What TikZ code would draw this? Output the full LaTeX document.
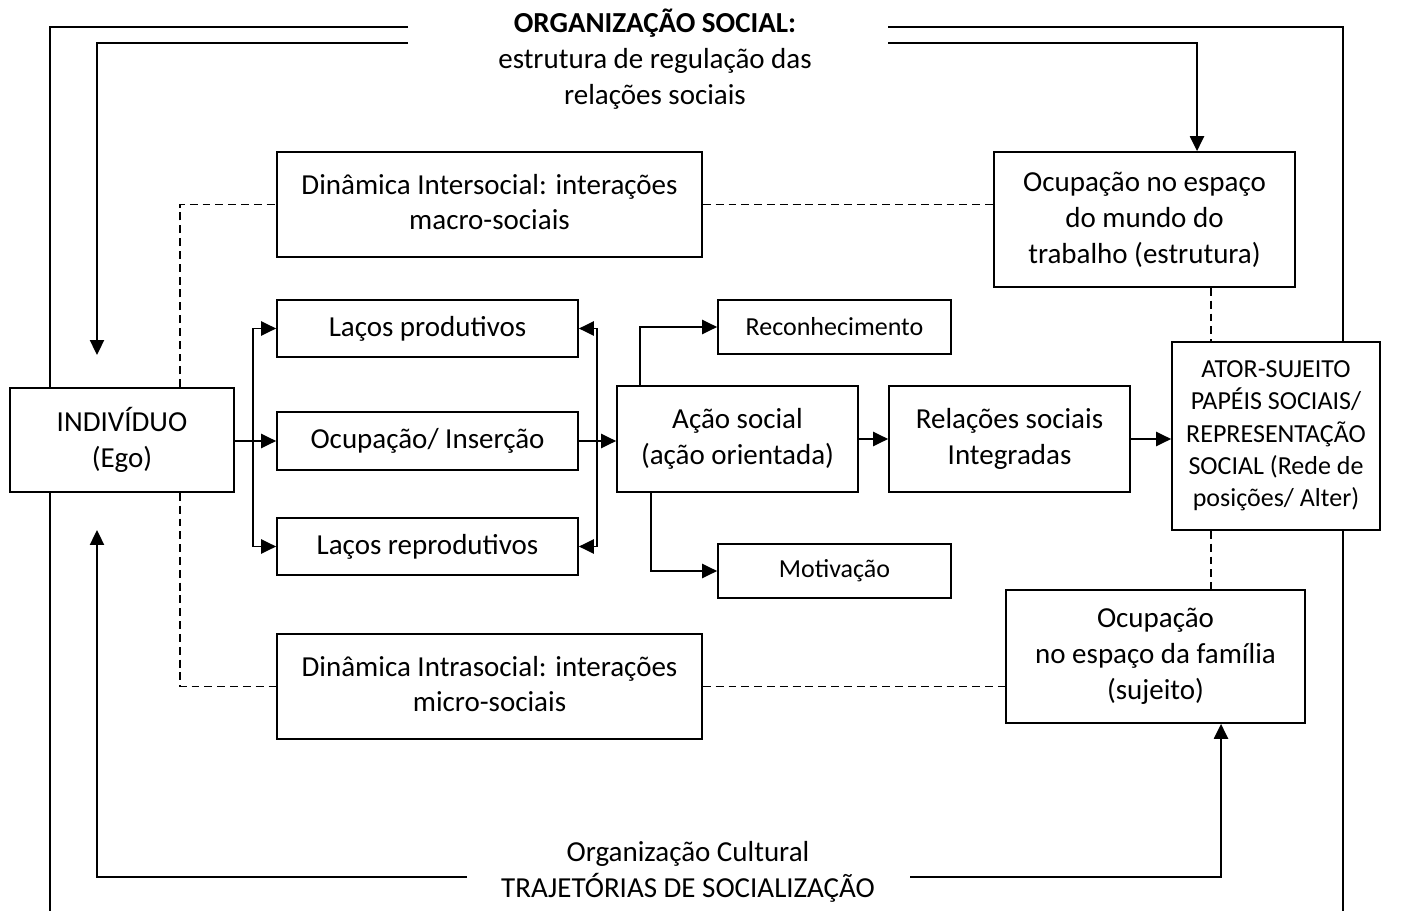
\documentclass[tikz,border=0pt]{standalone}
\usepackage{fontspec}
\setmainfont{Carlito}
\usetikzlibrary{arrows.meta}

\begin{document}
\begin{tikzpicture}[x=0.02cm,y=-0.02cm,
    font=\fontsize{16.5}{20.4}\selectfont,
    caixa/.style={draw,fill=white,line width=1pt,align=center,inner sep=0pt},
    menor/.style={font=\fontsize{14.8}{18.4}\selectfont},
    seta/.style={line width=1.1pt,-{Triangle[length=8.5pt,width=8pt]}},
    linha/.style={line width=1.1pt},
    tracejado/.style={line width=1pt,dash pattern=on 4.5pt off 2.8pt}]
    \useasboundingbox (0,0) rectangle (1408,911);
    \coordinate (o1) at (408,27);
    \coordinate (o2) at (888,27);
    \coordinate (i1) at (408,43);
    \coordinate (i2) at (888,43);
    \coordinate (b1) at (467,877);
    \coordinate (b2) at (910,877);
    \draw[linha] (o1) -- (50,27) -- (50,911);
    \draw[linha] (o2) -- (1343,27) -- (1343,911);
    \draw[seta] (i1) -- (97,43) -- (97,355);
    \draw[seta] (b1) -- (97,877) -- (97,530);
    \node[align=center] (org) at (655,59) {\textbf{ORGANIZAÇÃO SOCIAL:}\\estrutura de regulação das\\relações sociais};
    \node[align=center] (cult) at (688,872) {Organização Cultural\\TRAJETÓRIAS DE SOCIALIZAÇÃO};
    \node[caixa,minimum width=4.48cm,minimum height=2.08cm] (ind) at (122,440) {INDIVÍDUO\\(Ego)};
    \node[caixa,minimum width=8.5cm,minimum height=2.1cm] (inter) at (489.5,204.5) {Dinâmica Intersocial: interações\\macro-sociais\vphantom{g}};
    \node[caixa,minimum width=6.02cm,minimum height=2.7cm] (trab) at (1144.5,219.5) {Ocupação no espaço\\do mundo do\\trabalho (estrutura)};
    \node[caixa,minimum width=6.02cm,minimum height=1.14cm] (lprod) at (427.5,328.5) {Laços produtivos};
    \node[caixa,minimum width=6.02cm,minimum height=1.16cm] (ocup) at (427.5,441) {Ocupação/ Inserção};
    \node[caixa,minimum width=6.02cm,minimum height=1.14cm] (lrep) at (427.5,546.5) {Laços reprodutivos};
    \node[caixa,minimum width=4.82cm,minimum height=2.12cm] (acao) at (737.5,439) {Ação social\\(ação orientada)};
    \node[caixa,menor,minimum width=4.66cm,minimum height=1.08cm] (recon) at (834.5,327) {Reconhecimento};
    \node[caixa,menor,minimum width=4.66cm,minimum height=1.08cm] (motiv) at (834.5,571) {Motivação};
    \node[caixa,minimum width=4.82cm,minimum height=2.12cm] (rel) at (1009.5,439) {Relações sociais\\Integradas};
    \node[caixa,menor,minimum width=4.16cm,minimum height=3.76cm] (ator) at (1276,436) {ATOR-SUJEITO\\PAPÉIS SOCIAIS/\\REPRESENTAÇÃO\\SOCIAL (Rede de\\posições/ Alter)};
    \node[caixa,minimum width=8.5cm,minimum height=2.1cm] (intra) at (489.5,686.5) {Dinâmica Intrasocial: interações\\micro-sociais\vphantom{g}};
    \node[caixa,minimum width=5.98cm,minimum height=2.66cm] (fam) at (1155.5,656.5) {Ocupação\\no espaço da família\\(sujeito)};
    \draw[seta] (i2) -- (1197,43) -- (1197,43 |- trab.north);
    \draw[seta] (b2) -- (1221,877) -- (1221,877 |- fam.south);
    \draw[seta] (ocup.west -| ind.east) -- (ocup.west);
    \draw[seta] (253,441) |- (lprod.west);
    \draw[seta] (253,441) |- (lrep.west);
    \draw[seta] (ocup.east) -- (ocup.east -| acao.west);
    \draw[seta] (597,441) |- (lprod.east);
    \draw[seta] (597,441) |- (lrep.east);
    \draw[seta] (640,0 |- acao.north) |- (recon.west);
    \draw[seta] (651,0 |- acao.south) |- (motiv.west);
    \draw[seta] (acao.east) -- (rel.west);
    \draw[seta] (rel.east) -- (rel.east -| ator.west);
    \draw[tracejado] (180,0 |- ind.north) |- (inter.west);
    \draw[tracejado] (180,0 |- ind.south) |- (intra.west);
    \draw[tracejado] (inter.east) -- (inter.east -| trab.west);
    \draw[tracejado] (intra.east) -- (intra.east -| fam.west);
    \draw[tracejado] (1211,0 |- trab.south) -- (1211,0 |- ator.north);
    \draw[tracejado] (1211,0 |- ator.south) -- (1211,0 |- fam.north);
\end{tikzpicture}
\end{document}
